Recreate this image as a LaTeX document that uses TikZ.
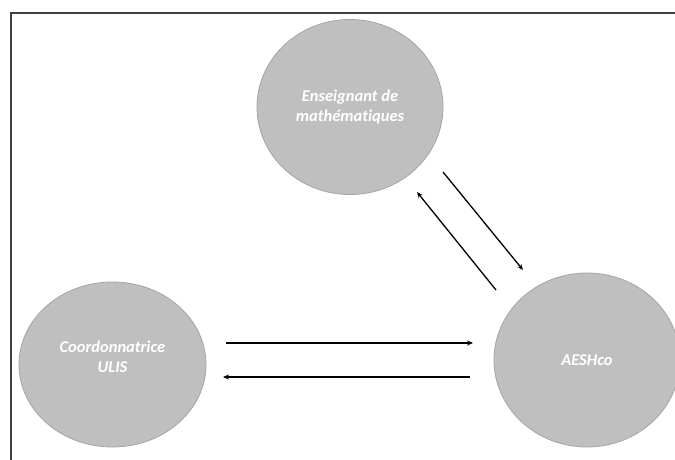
\documentclass[tikz,border=0pt]{standalone}
\usepackage{fontspec}
\newfontfamily\rolefont[Ligatures=NoCommon]{Carlito}
\usetikzlibrary{shapes.geometric,arrows.meta}
\definecolor{rolefill}{HTML}{BFBFBF}
\definecolor{roleedge}{HTML}{A5A5A5}
\definecolor{framegray}{HTML}{404040}
\tikzset{
	role/.style={ellipse, fill=rolefill, draw=roleedge, line width=0.8pt, inner sep=0pt,
		text=white, align=center, font=\rolefont\bfseries\itshape\fontsize{16.5}{20}\selectfont},
	link/.style={-{Stealth[length=6pt,width=5pt]}, line width=1.3pt}
}
\begin{document}
\begin{tikzpicture}[x=1pt,y=-1pt]
		\useasboundingbox (0,0) rectangle (675,460);
		\clip (0,0) rectangle (675,460);
		\draw [framegray, line width=1.2pt] (680,13) -| (11,465);
		
		\node [role, minimum width=186, minimum height=175] (prof) at (350,107) {Enseignant de\\math\'ematiques};
		\node [role, minimum width=187, minimum height=165] (ulis) at (112.5,364.5) {Coordonnatrice\\ULIS\\[-4pt]};
		\node [role, minimum width=186, minimum height=174] (aesh) at (587,360) {AESHco};
		
		\coordinate (pa) at (443,172);
		\coordinate (pb) at (523,270);
		\coordinate (pc) at (496,290);
		\coordinate (pd) at (417,192);
		\coordinate (ua) at (226,343);
		\coordinate (ub) at (473,343);
		\coordinate (uc) at (470,377);
		\coordinate (ud) at (223,377);
		
		\draw [link] (pa) -- (pb);
		\draw [link] (pc) -- (pd);
		\draw [link] (ua) -- (ub);
		\draw [link] (uc) -- (ud);
	\end{tikzpicture}
\end{document}
